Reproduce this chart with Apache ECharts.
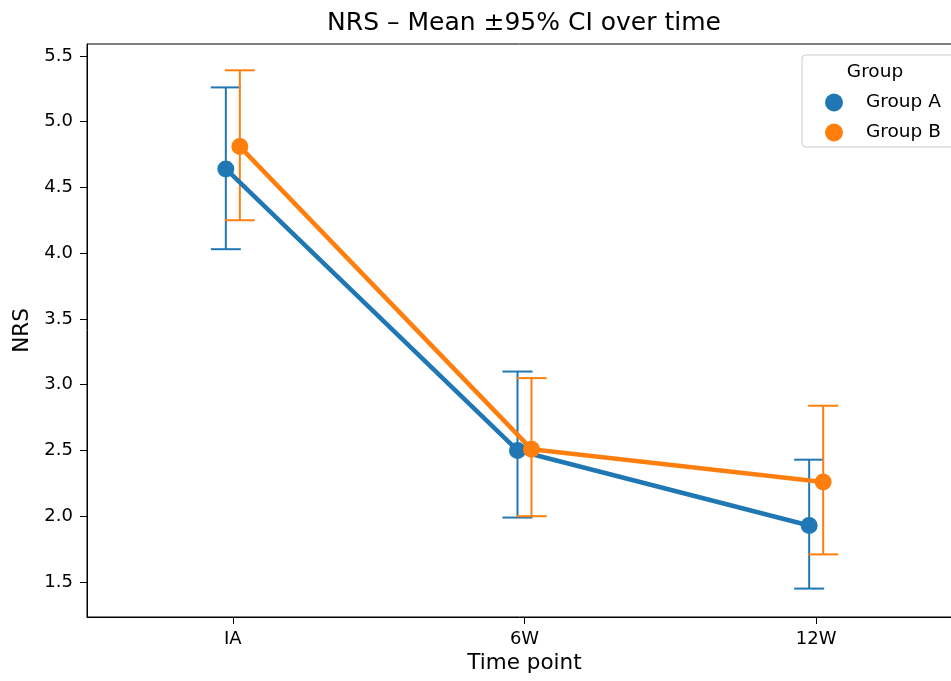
<!DOCTYPE html>
<html>
<head>
<meta charset="utf-8">
<script src="https://cdn.jsdelivr.net/npm/echarts@6/dist/echarts.min.js"></script>
<style>
  html, body { margin: 0; padding: 0; background: #fff; }
  #main { width: 951px; height: 681px; }
</style>
</head>
<body>
<div id="main"></div>
<script>
// categories and values
const categories = ['IA', '6W', '12W'];
const groupAMean = [4.64, 2.50, 1.93];
const groupALow = [4.03, 1.99, 1.45];
const groupAHigh = [5.26, 3.10, 2.43];
const groupBMean = [4.81, 2.51, 2.26];
const groupBLow = [4.25, 2.00, 1.71];
const groupBHigh = [5.39, 3.05, 2.84];
const yTicks = [1.5, 2.0, 2.5, 3.0, 3.5, 4.0, 4.5, 5.0, 5.5];

const dodge = 0.024; // seaborn-style dodge between groups
const font = 'DejaVu Sans';
const colorA = '#1f77b4';
const colorB = '#ff7f0e';

function points(mean, off) {
  return mean.map((v, i) => [i + off, v]);
}
function bars(lo, hi, off) {
  return lo.map((v, i) => [i + off, v, hi[i]]);
}

function errorBar(color) {
  return function (params, api) {
    const x = api.value(0);
    const p1 = api.coord([x, api.value(1)]);
    const p2 = api.coord([x, api.value(2)]);
    const cap = 15;
    const style = { stroke: color, lineWidth: 2 };
    return {
      type: 'group',
      children: [
        { type: 'line', shape: { x1: p1[0], y1: p1[1], x2: p2[0], y2: p2[1] }, style },
        { type: 'line', shape: { x1: p1[0] - cap, y1: p1[1], x2: p1[0] + cap, y2: p1[1] }, style },
        { type: 'line', shape: { x1: p2[0] - cap, y1: p2[1], x2: p2[0] + cap, y2: p2[1] }, style }
      ]
    };
  };
}

const myChart = echarts.init(document.getElementById('main'));
const option = {
  animation: false,
  textStyle: { fontFamily: font },
  grid: {
    left: 87, top: 44, width: 875, height: 573,
    show: true, borderColor: '#000', borderWidth: 1,
    outerBoundsMode: 'none'
  },
  xAxis: {
    type: 'value',
    min: -0.5,
    max: 2.5,
    name: 'Time point',
    nameLocation: 'middle',
    nameGap: 34,
    nameTextStyle: { fontSize: 21.5, color: '#000', fontFamily: font },
    axisLine: { onZero: false, lineStyle: { color: '#000' } },
    splitLine: { show: false },
    axisTick: { length: 7, lineStyle: { color: '#000' }, customValues: [0, 1, 2] },
    axisLabel: {
      customValues: [0, 1, 2],
      formatter: v => categories[Math.round(v)],
      fontSize: 18, color: '#000', margin: 13
    }
  },
  yAxis: {
    type: 'value',
    min: 1.234,
    max: 5.59,
    name: 'NRS',
    nameLocation: 'middle',
    nameGap: 51,
    nameTextStyle: { fontSize: 21.5, color: '#000', fontFamily: font },
    axisLine: { show: true, onZero: false, lineStyle: { color: '#000' } },
    splitLine: { show: false },
    axisTick: { show: true, length: 7, lineStyle: { color: '#000' }, customValues: yTicks },
    axisLabel: {
      customValues: yTicks,
      formatter: v => v.toFixed(1),
      fontSize: 18, color: '#000', margin: 14
    }
  },
  legend: {
    orient: 'vertical',
    left: 820,
    top: 88,
    z: 10,
    itemWidth: 18,
    itemHeight: 18,
    itemGap: 11,
    icon: 'circle',
    textStyle: { fontSize: 18.5, lineHeight: 18, color: '#000', fontFamily: font, padding: [0, 0, 0, 18] },
    data: ['Group A', 'Group B']
  },
  graphic: [
    {
      type: 'text', x: 524, y: 23,
      style: { text: 'NRS \u2013 Mean \u00b195% CI over time', font: '25px "DejaVu Sans"', fill: '#000', align: 'center', verticalAlign: 'middle' }
    },
    {
      type: 'rect', shape: { x: 802, y: 55, width: 160, height: 92, r: 4 },
      style: { fill: 'rgba(255,255,255,0.8)', stroke: '#cccccc', lineWidth: 1 },
      z: 5
    },
    {
      type: 'text', x: 875, y: 72,
      style: { text: 'Group', font: '18.5px "DejaVu Sans"', fill: '#000', align: 'center', verticalAlign: 'middle' },
      z: 6
    }
  ],
  series: [
    {
      name: 'Group A',
      type: 'line',
      data: points(groupAMean, -dodge),
      color: colorA,
      lineStyle: { width: 4.5 },
      symbol: 'circle',
      symbolSize: 17,
      z: 3
    },
    {
      name: 'Group B',
      type: 'line',
      data: points(groupBMean, dodge),
      color: colorB,
      lineStyle: { width: 4.5 },
      symbol: 'circle',
      symbolSize: 17,
      z: 3
    },
    {
      type: 'custom',
      renderItem: errorBar(colorA),
      data: bars(groupALow, groupAHigh, -dodge),
      encode: { x: 0, y: [1, 2] },
      z: 2
    },
    {
      type: 'custom',
      renderItem: errorBar(colorB),
      data: bars(groupBLow, groupBHigh, dodge),
      encode: { x: 0, y: [1, 2] },
      z: 2
    }
  ]
};
myChart.setOption(option);
</script>
</body>
</html>
